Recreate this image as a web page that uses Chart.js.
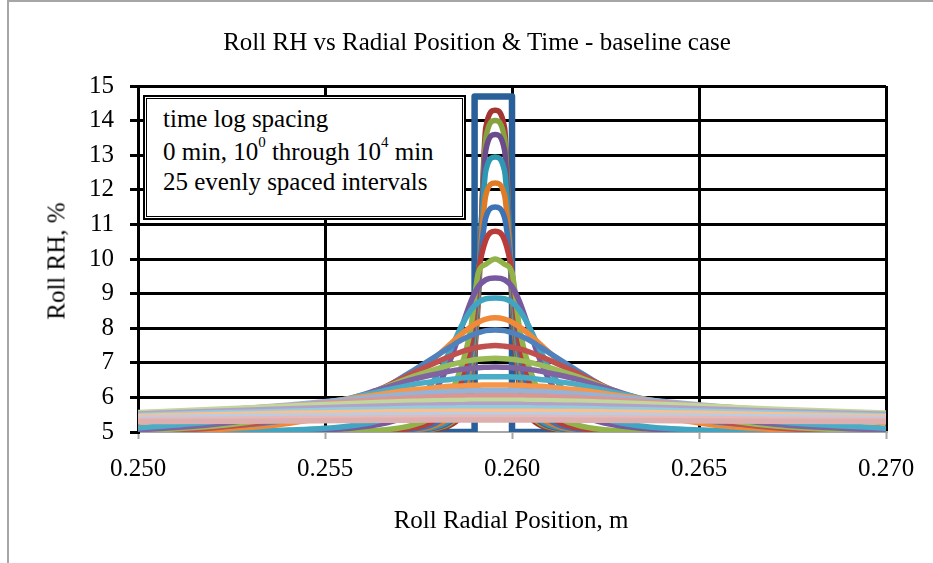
<!DOCTYPE html>
<html><head><meta charset="utf-8">
<script src="https://cdn.jsdelivr.net/npm/chart.js@4.4.0/dist/chart.umd.min.js"></script>
<style>
html,body{margin:0;padding:0;background:#fff;}
#wrap{position:relative;width:933px;height:563px;overflow:hidden;font-family:"Liberation Serif","Times New Roman",serif;color:#000;}
#frame{position:absolute;left:7px;top:0px;width:960px;height:600px;border-left:2px solid #a6a6a6;border-top:2px solid #a6a6a6;}
#c{position:absolute;left:0;top:0;}
.t{position:absolute;white-space:nowrap;line-height:1;}
#title{left:477px;top:29px;font-size:25px;transform:translateX(-50%);}
#ytitle{left:56px;top:261px;font-size:25px;transform:translate(-50%,-50%) rotate(-90deg);}
#xtitle{left:511px;top:507px;font-size:25px;transform:translateX(-50%);}
#note{position:absolute;left:143px;top:95px;width:319px;height:121px;background:#fff;border:2px solid #000;}
#inner{position:absolute;left:1px;top:1px;right:1px;bottom:1px;border:1px solid #000;}
#note .ln{position:absolute;left:18px;font-size:25px;white-space:nowrap;line-height:1;}
#note sup{font-size:15px;vertical-align:top;position:relative;top:-4px;}
</style></head>
<body>
<div id="wrap">
  <div id="frame"></div>
  <canvas id="c" width="933" height="563"></canvas>
  <div class="t" id="title">Roll RH vs Radial Position &amp; Time - baseline case</div>
  <div class="t" id="ytitle">Roll RH, %</div>
  <div class="t" id="xtitle">Roll Radial Position, m</div>
  <div id="note"><div id="inner"></div>
    <div class="ln" style="top:9px">time log spacing</div>
    <div class="ln" style="top:42px">0 min, 10<sup>0</sup> through 10<sup>4</sup> min</div>
    <div class="ln" style="top:72px">25 evenly spaced intervals</div>
  </div>
</div>
<script>
// radial positions (m) shared by the time curves
const radialPos = [0.2500, 0.25205, 0.25405, 0.25555, 0.25655, 0.25735, 0.25795, 0.25835, 0.25865, 0.2589, 0.2591, 0.2593, 0.25955, 0.2598, 0.2600, 0.2602, 0.26045, 0.26075, 0.26115, 0.26175, 0.26255, 0.26355, 0.26505, 0.26705, 0.2700];
// initial (0 min) profile
const initX = [0.250, 0.259, 0.259, 0.260, 0.260, 0.270];
const initRH = [5, 5, 14.7, 14.7, 5, 5];
// RH (%) profiles, 10^0 ... 10^4 min
const rh01 = [5, 5, 5, 5, 5.01, 5.03, 5.08, 5.2, 5.5, 6.3, 8.8, 13.8, 14.3, 13.8, 8.8, 6.3, 5.5, 5.2, 5.08, 5.03, 5.01, 5, 5, 5, 5];
const rh02 = [5, 5, 5, 5, 5.01, 5.03, 5.1, 5.25, 5.6, 6.5, 9.0, 13.5, 14.0, 13.5, 9.0, 6.5, 5.6, 5.25, 5.1, 5.03, 5.01, 5, 5, 5, 5];
const rh03 = [5, 5, 5, 5, 5.01, 5.04, 5.12, 5.3, 5.7, 6.7, 9.2, 13.15, 13.6, 13.15, 9.2, 6.7, 5.7, 5.3, 5.12, 5.04, 5.01, 5, 5, 5, 5];
const rh04 = [5, 5, 5, 5, 5.01, 5.05, 5.15, 5.35, 5.8, 6.9, 9.3, 12.55, 12.95, 12.55, 9.3, 6.9, 5.8, 5.35, 5.15, 5.05, 5.01, 5, 5, 5, 5];
const rh05 = [5, 5, 5, 5.01, 5.02, 5.06, 5.2, 5.45, 6.0, 7.1, 9.4, 11.85, 12.2, 11.85, 9.4, 7.1, 6.0, 5.45, 5.2, 5.06, 5.02, 5.01, 5, 5, 5];
const rh06 = [5, 5, 5, 5.01, 5.02, 5.08, 5.25, 5.6, 6.2, 7.3, 9.5, 11.2, 11.5, 11.2, 9.5, 7.3, 6.2, 5.6, 5.25, 5.08, 5.02, 5.01, 5, 5, 5];
const rh07 = [5, 5, 5, 5.01, 5.04, 5.12, 5.35, 5.8, 6.5, 7.6, 9.6, 10.55, 10.8, 10.55, 9.6, 7.6, 6.5, 5.8, 5.35, 5.12, 5.04, 5.01, 5, 5, 5];
const rh08 = [5, 5, 5, 5.02, 5.06, 5.2, 5.5, 6.1, 6.9, 8.0, 9.6, 9.85, 10.0, 9.85, 9.6, 8.0, 6.9, 6.1, 5.5, 5.2, 5.06, 5.02, 5, 5, 5];
const rh09 = [5.01, 5.02, 5.04, 5.1, 5.24, 5.56, 6.21, 7.08, 8.01, 8.77, 9.2, 9.4, 9.45, 9.4, 9.2, 8.77, 8.01, 7.08, 6.21, 5.56, 5.24, 5.1, 5.04, 5.02, 5.01];
const rh10 = [5.01, 5.03, 5.06, 5.16, 5.36, 5.79, 6.55, 7.37, 8.06, 8.52, 8.75, 8.85, 8.87, 8.85, 8.75, 8.52, 8.06, 7.37, 6.55, 5.79, 5.36, 5.16, 5.06, 5.03, 5.01];
const rh11 = [5.01, 5.07, 5.25, 5.6, 6.1, 6.65, 7.16, 7.54, 7.83, 8.04, 8.17, 8.26, 8.3, 8.26, 8.17, 8.04, 7.83, 7.54, 7.16, 6.65, 6.1, 5.6, 5.25, 5.07, 5.01];
const rh12 = [5.07, 5.15, 5.35, 5.75, 6.25, 6.77, 7.18, 7.46, 7.66, 7.79, 7.87, 7.93, 7.95, 7.93, 7.87, 7.79, 7.66, 7.46, 7.18, 6.77, 6.25, 5.75, 5.35, 5.15, 5.06];
const rh13 = [5.0, 5.12, 5.4, 5.84, 6.28, 6.7, 7.0, 7.19, 7.32, 7.4, 7.45, 7.48, 7.5, 7.48, 7.45, 7.4, 7.32, 7.19, 7.0, 6.7, 6.28, 5.84, 5.4, 5.12, 5.0];
const rh14 = [5.03, 5.17, 5.47, 5.88, 6.27, 6.6, 6.81, 6.94, 7.02, 7.07, 7.1, 7.12, 7.13, 7.12, 7.1, 7.07, 7.02, 6.94, 6.81, 6.6, 6.27, 5.88, 5.47, 5.17, 5.02];
const rh15 = [5.06, 5.22, 5.53, 5.93, 6.26, 6.52, 6.67, 6.76, 6.81, 6.84, 6.86, 6.87, 6.88, 6.87, 6.86, 6.84, 6.81, 6.76, 6.67, 6.52, 6.26, 5.93, 5.53, 5.22, 5.05];
const rh16 = [5.12, 5.3, 5.6, 5.95, 6.19, 6.37, 6.47, 6.52, 6.56, 6.58, 6.59, 6.6, 6.6, 6.6, 6.59, 6.58, 6.56, 6.52, 6.47, 6.37, 6.19, 5.95, 5.6, 5.3, 5.11];
const rh17 = [5.28, 5.45, 5.7, 5.95, 6.1, 6.22, 6.28, 6.32, 6.33, 6.35, 6.35, 6.36, 6.36, 6.36, 6.35, 6.35, 6.33, 6.32, 6.28, 6.22, 6.1, 5.95, 5.7, 5.45, 5.27];
const rh18 = [5.5, 5.62, 5.78, 5.93, 6.03, 6.1, 6.15, 6.17, 6.18, 6.19, 6.2, 6.2, 6.2, 6.2, 6.2, 6.19, 6.18, 6.17, 6.15, 6.1, 6.03, 5.93, 5.78, 5.62, 5.47];
const rh19 = [5.52, 5.63, 5.76, 5.87, 5.94, 5.99, 6.02, 6.03, 6.04, 6.04, 6.05, 6.05, 6.05, 6.05, 6.05, 6.04, 6.04, 6.03, 6.02, 5.99, 5.94, 5.87, 5.76, 5.63, 5.5];
const rh20 = [5.56, 5.66, 5.75, 5.82, 5.86, 5.89, 5.9, 5.91, 5.91, 5.92, 5.92, 5.92, 5.92, 5.92, 5.92, 5.92, 5.91, 5.91, 5.9, 5.89, 5.86, 5.82, 5.75, 5.66, 5.55];
const rh21 = [5.52, 5.6, 5.67, 5.72, 5.75, 5.77, 5.78, 5.79, 5.79, 5.8, 5.8, 5.8, 5.8, 5.8, 5.8, 5.8, 5.79, 5.79, 5.78, 5.77, 5.75, 5.72, 5.67, 5.6, 5.51];
const rh22 = [5.48, 5.55, 5.6, 5.64, 5.66, 5.68, 5.69, 5.69, 5.7, 5.7, 5.7, 5.7, 5.7, 5.7, 5.7, 5.7, 5.7, 5.69, 5.69, 5.68, 5.66, 5.64, 5.6, 5.55, 5.47];
const rh23 = [5.45, 5.5, 5.54, 5.56, 5.58, 5.59, 5.59, 5.6, 5.6, 5.6, 5.6, 5.6, 5.6, 5.6, 5.6, 5.6, 5.6, 5.6, 5.59, 5.59, 5.58, 5.56, 5.54, 5.5, 5.44];
const rh24 = [5.4, 5.44, 5.46, 5.48, 5.49, 5.49, 5.5, 5.5, 5.5, 5.5, 5.5, 5.5, 5.5, 5.5, 5.5, 5.5, 5.5, 5.5, 5.5, 5.49, 5.49, 5.48, 5.46, 5.44, 5.4];
const rh25 = [5.35, 5.37, 5.39, 5.4, 5.41, 5.41, 5.42, 5.42, 5.42, 5.42, 5.42, 5.42, 5.42, 5.42, 5.42, 5.42, 5.42, 5.42, 5.42, 5.41, 5.41, 5.4, 5.39, 5.37, 5.35];
const rh26 = [5.3, 5.31, 5.32, 5.33, 5.34, 5.34, 5.35, 5.35, 5.35, 5.35, 5.35, 5.35, 5.35, 5.35, 5.35, 5.35, 5.35, 5.35, 5.35, 5.34, 5.34, 5.33, 5.32, 5.31, 5.3];
const xTicks = [0.250, 0.255, 0.260, 0.265, 0.270];
const yTicks = [5, 6, 7, 8, 9, 10, 11, 12, 13, 14, 15];

const profiles = [rh01, rh02, rh03, rh04, rh05, rh06, rh07, rh08, rh09, rh10, rh11, rh12, rh13,
  rh14, rh15, rh16, rh17, rh18, rh19, rh20, rh21, rh22, rh23, rh24, rh25, rh26];
const colors = ['#A33532', '#86A23E', '#6A4C8C', '#2E98B2', '#E07A26', '#3B73B5', '#B83D3A', '#92B34A',
  '#7659A0', '#41A5C2', '#F08A38', '#4F81BD', '#C0504D', '#9BBB59', '#8064A2', '#4BACC6', '#F79646',
  '#95B3D7', '#D99694', '#C3D69B', '#B3A2C7', '#93CDDD', '#FAC090', '#B9CDE5', '#E6B9B8', '#DDB0AF'];

const datasets = [{
  data: initX.map((x, i) => ({x: x, y: initRH[i]})),
  borderColor: '#2A6099', borderWidth: 6.5, pointRadius: 0, tension: 0,
  borderJoinStyle: 'round', borderCapStyle: 'round', order: 100
}];
profiles.forEach((p, k) => {
  datasets.push({
    data: radialPos.map((x, i) => ({x: x, y: p[i]})),
    borderColor: colors[k], borderWidth: 5.5, pointRadius: 0,
    cubicInterpolationMode: 'monotone', borderJoinStyle: 'round', order: 99 - k
  });
});

const FONT = {family: '"Liberation Serif", "Times New Roman", serif', size: 25};
new Chart(document.getElementById('c'), {
  type: 'line',
  data: {datasets: datasets},
  options: {
    responsive: false, animation: false, events: [],
    layout: {padding: {left: 0, top: 86, right: 47, bottom: 0}},
    plugins: {legend: {display: false}, tooltip: {enabled: false}, title: {display: false}},
    scales: {
      x: {
        type: 'linear', min: 0.25, max: 0.27,
        afterBuildTicks: s => { s.ticks = xTicks.map(v => ({value: v})); },
        afterFit: s => { s.height = 131; },
        ticks: {font: FONT, color: '#000', padding: 15, maxRotation: 0, callback: v => Number(v).toFixed(3)},
        grid: {color: c => (c.tick && Math.abs(c.tick.value - 0.25) < 1e-9) ? 'rgba(0,0,0,0)' : '#000',
               lineWidth: 3, tickColor: '#a6a6a6', tickLength: 7, tickWidth: 2},
        border: {color: '#a6a6a6', width: 2}
      },
      y: {
        min: 5, max: 15,
        afterBuildTicks: s => { s.ticks = yTicks.map(v => ({value: v})); },
        afterFit: s => { s.width = 138; },
        ticks: {font: FONT, color: '#000', padding: 16},
        grid: {color: c => (c.tick && c.tick.value === 5) ? 'rgba(0,0,0,0)' : '#000',
               lineWidth: 3, tickColor: '#000', tickLength: 8, tickWidth: 3},
        border: {color: '#000', width: 3}
      }
    }
  }
});
</script>
</body></html>
